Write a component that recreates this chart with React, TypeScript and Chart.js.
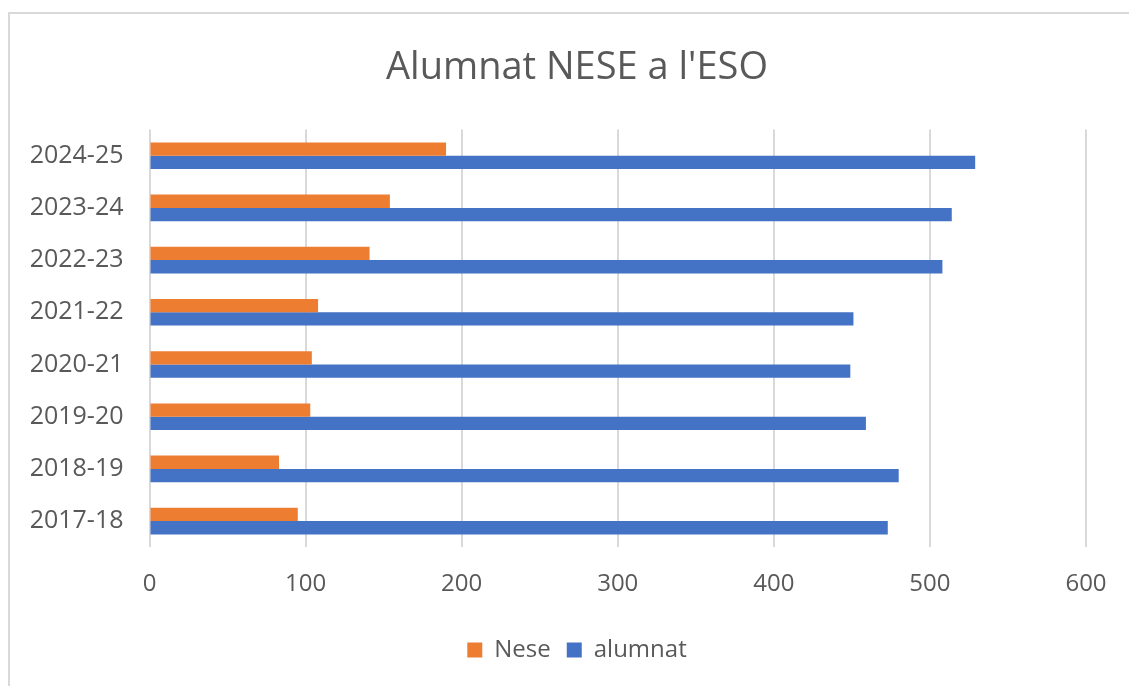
import React, { useEffect, useRef } from 'react';
import { Chart, registerables } from 'chart.js';

Chart.register(...registerables);

const title = "Alumnat NESE a l'ESO";
const categories = ['2024-25', '2023-24', '2022-23', '2021-22', '2020-21', '2019-20', '2018-19', '2017-18'];
const seriesNames = ['Nese', 'alumnat'];
const neseValues = [190, 154, 141, 108, 104, 103, 83, 95];
const alumnatValues = [529, 514, 508, 451, 449, 459, 480, 473];
const xMin = 0;
const xMax = 600;
const xStep = 100;

const FONT = "'Open Sans', 'DejaVu Sans', sans-serif";
const TEXT = '#595959';
const GRID = '#d9d9d9';

export default function App() {
  const ref = useRef<HTMLCanvasElement | null>(null);

  useEffect(() => {
    if (!ref.current) return;
    const chart = new Chart(ref.current, {
      type: 'bar',
      data: {
        labels: categories,
        datasets: [
          {
            label: seriesNames[0],
            data: neseValues,
            backgroundColor: '#ED7D31',
            borderWidth: 0,
            categoryPercentage: 0.51,
            barPercentage: 1,
          },
          {
            label: seriesNames[1],
            data: alumnatValues,
            backgroundColor: '#4472C4',
            borderWidth: 0,
            categoryPercentage: 0.51,
            barPercentage: 1,
          },
        ],
      },
      options: {
        indexAxis: 'y',
        animation: false,
        responsive: true,
        maintainAspectRatio: false,
        layout: { padding: { left: 0, right: 0, top: 0, bottom: 14 } },
        plugins: {
          title: {
            display: true,
            text: title,
            color: TEXT,
            font: { family: FONT, size: 38, weight: 'normal' },
            padding: { top: 31, bottom: 39 },
          },
          legend: {
            display: true,
            position: 'bottom',
            labels: {
              color: TEXT,
              font: { family: FONT, size: 24 },
              boxWidth: 15,
              boxHeight: 15,
              padding: 16,
            },
          },
          tooltip: { enabled: false },
        },
        scales: {
          x: {
            type: 'linear',
            min: xMin,
            max: xMax,
            ticks: {
              stepSize: xStep,
              color: TEXT,
              font: { family: FONT, size: 24 },
              padding: 23,
            },
            grid: {
              color: GRID,
              lineWidth: 2,
              drawTicks: false,
            },
            border: { display: false },
            afterFit: (scale: any) => {
              scale.paddingRight = 58;
            },
          },
          y: {
            type: 'category',
            ticks: {
              color: TEXT,
              font: { family: FONT, size: 25 },
              padding: 26,
            },
            grid: { display: false, drawTicks: false },
            border: { display: false },
            afterFit: (scale: any) => {
              scale.width = 139.5;
            },
          },
        },
      },
    });
    return () => chart.destroy();
  }, []);

  return (
    <div
      style={{
        position: 'fixed',
        left: 8,
        top: 12,
        width: 1121,
        height: 674,
        overflow: 'hidden',
        borderLeft: '2px solid #d9d9d9',
        borderTop: '2px solid #d9d9d9',
        boxSizing: 'border-box',
        background: '#fff',
      }}
    >
      <div style={{ position: 'absolute', left: 0, top: 0, width: 1134, height: 672 }}>
        <canvas ref={ref} />
      </div>
    </div>
  );
}
